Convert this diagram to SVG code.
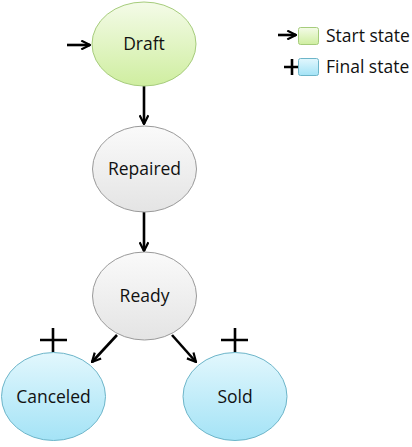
<svg xmlns="http://www.w3.org/2000/svg" width="412" height="447" viewBox="0 0 412 447">
<style>
.lbl{font-family:"Open Sans","Liberation Sans",sans-serif;font-size:17.5px;fill:#111;text-anchor:middle}
.leg{font-family:"Open Sans","Liberation Sans",sans-serif;font-size:17.5px;fill:#111}
.ln{stroke:#000;stroke-width:2.6;fill:none}
.g{fill:url(#gg);stroke:#a6cc7c;stroke-width:1}
.w{fill:url(#gw);stroke:#9a9a9a;stroke-width:1}
.b{fill:url(#gb);stroke:#6db5c9;stroke-width:1}
</style>
<defs>
<linearGradient id="gg" x1="0" y1="0" x2="0" y2="1"><stop offset="0" stop-color="#f4fbe8"/><stop offset="1" stop-color="#cfeea0"/></linearGradient>
<linearGradient id="gw" x1="0" y1="0" x2="0" y2="1"><stop offset="0" stop-color="#fafafa"/><stop offset="1" stop-color="#e4e4e4"/></linearGradient>
<linearGradient id="gb" x1="0" y1="0" x2="0" y2="1"><stop offset="0" stop-color="#e2f7fd"/><stop offset="1" stop-color="#a4e3f6"/></linearGradient>
<marker id="ah" viewBox="0 0 10 10" refX="9" refY="5" markerWidth="4.2" markerHeight="4.2" orient="auto" markerUnits="strokeWidth"><path d="M1,1 L9,5 L1,9" fill="none" stroke="#000" stroke-width="2"/></marker>
</defs>
<g id="connectors">
<line class="ln" x1="67" y1="45" x2="90" y2="45" marker-end="url(#ah)"/>
<line class="ln" x1="144" y1="86" x2="144" y2="124" marker-end="url(#ah)"/>
<line class="ln" x1="144" y1="212" x2="144" y2="251" marker-end="url(#ah)"/>
<line class="ln" x1="117" y1="335" x2="92" y2="362" marker-end="url(#ah)"/>
<line class="ln" x1="172" y1="335" x2="196" y2="362" marker-end="url(#ah)"/>
<path class="ln" d="M53,328 V352 M40,340 H67"/>
<path class="ln" d="M235,328 V352 M221,340 H248"/>
</g>
<g id="draft"><ellipse class="g" cx="144" cy="44" rx="52" ry="42"/><text class="lbl" x="144" y="50">Draft</text></g>
<g id="repaired"><ellipse class="w" cx="144.5" cy="169" rx="52" ry="43"/><text class="lbl" x="144.5" y="175">Repaired</text></g>
<g id="ready"><ellipse class="w" cx="144.5" cy="296" rx="52" ry="44"/><text class="lbl" x="144.5" y="302">Ready</text></g>
<g id="canceled"><ellipse class="b" cx="53.5" cy="396.5" rx="52" ry="44"/><text class="lbl" x="53.5" y="403">Canceled</text></g>
<g id="sold"><ellipse class="b" cx="235" cy="396.5" rx="52" ry="44"/><text class="lbl" x="235" y="403">Sold</text></g>
<g id="legend">
<line class="ln" x1="278" y1="35" x2="296" y2="35" marker-end="url(#ah)"/>
<rect class="g" x="298.5" y="27.5" width="20" height="17" rx="2"/>
<text class="leg" x="326" y="42">Start state</text>
<path class="ln" d="M292,59 V75 M284,67 H299"/>
<rect class="b" x="298.5" y="58.5" width="20" height="17" rx="2"/>
<text class="leg" x="326" y="73">Final state</text>
</g>
</svg>
